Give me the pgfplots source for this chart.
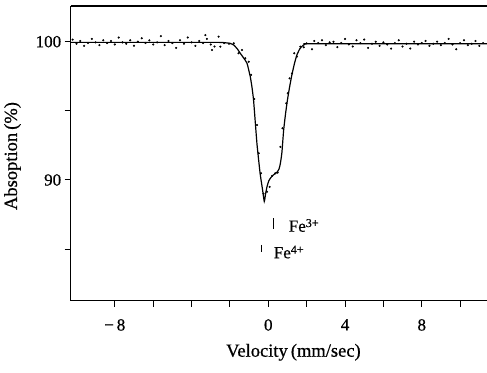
\documentclass[border=0pt]{standalone}
\usepackage{fontspec}
\setmainfont{Liberation Serif}[FakeBold=0.6]
\usepackage{pgfplots}
\pgfplotsset{compat=1.18}
\usetikzlibrary{calc}
\begin{document}
\begin{tikzpicture}
\begin{axis}[name=ax, scale only axis, width=416.3pt, height=294.7pt,
 xmin=-10.3, xmax=11.4, ymin=81.27, ymax=102.58,
 axis x line=box, axis y line=left, axis line style={-, line width=1.4pt},
 xtick={-8,-6,...,10}, xticklabels={−\,8,,,,0,,4,,8,},
 ytick={85,90,95,100}, yticklabels={,90,,100},
 tick align=outside, tick pos=left,
 major tick length=6pt, tick style={line width=1pt, black},
 ticklabel style={font=\fontsize{17}{20}\selectfont},
 xticklabel style={yshift=-9pt},
 /pgf/number format/assume math mode=true,
 xlabel={Velocity\,(mm/sec)}, ylabel={Absoption\,(\%)},
 label style={font=\fontsize{18.5}{21}\selectfont},
 xlabel style={at={(axis description cs:0.535,-0.19)}, anchor=base},
 ylabel style={at={(axis description cs:-0.1398,0.491)}, anchor=center},
]
% fitted curve
\addplot[black, line width=1.2pt, smooth, tension=0.3] coordinates {
(-10.3,99.95) (-4,99.95) (-2.6,99.95) (-2.3,99.93) (-2.0,99.88) (-1.8,99.76) (-1.6,99.45)
(-1.46,99.16) (-1.3,98.85) (-1.11,98.44) (-0.94,97.47) (-0.85,96.7) (-0.77,95.8)
(-0.68,94.2) (-0.59,92.6) (-0.50,91.4) (-0.42,90.4) (-0.30,89.3) (-0.21,88.45)
(-0.14,89.0) (-0.07,89.5) (0.03,89.95) (0.15,90.2) (0.28,90.38) (0.45,90.55)
(0.56,90.8) (0.63,91.2) (0.71,92.0) (0.80,93.6) (0.90,94.8) (1.0,95.8) (1.12,96.8)
(1.23,97.6) (1.36,98.4) (1.49,99.04) (1.65,99.5) (1.8,99.72) (1.93,99.83) (2.3,99.85) (11.4,99.85)
};
% measured points
\addplot[only marks, mark=*, mark size=0.85pt, black] coordinates {
(-10.2,100.15) (-10.0,99.85) (-9.8,100.05) (-9.6,99.7) (-9.4,99.9) (-9.2,100.2) (-9.0,99.95)
(-8.8,99.75) (-8.6,100.1) (-8.4,99.9) (-8.2,100.05) (-8.0,99.8) (-7.8,100.3) (-7.6,99.95)
(-7.4,99.85) (-7.2,100.1) (-7.0,99.7) (-6.8,100.0) (-6.6,100.25) (-6.4,99.9) (-6.2,100.1)
(-6.0,99.8) (-5.8,99.95) (-5.6,100.4) (-5.4,99.75) (-5.2,100.05) (-5.0,99.9) (-4.8,99.55)
(-4.6,100.1) (-4.4,99.85) (-4.2,100.3) (-4.0,99.95) (-3.8,99.7) (-3.6,100.05) (-3.4,99.9)
(-3.28,100.48) (-3.2,100.2) (-3.0,99.8) (-2.93,99.4) (-2.8,99.65) (-2.59,100.36) (-2.5,99.64)
(-2.3,99.9) (-2.05,99.85) (-1.8,99.88) (-1.55,99.16) (-1.37,99.4) (-1.2,98.8) (-1.02,98.55)
(-0.9,97.6) (-0.73,95.86) (-0.59,93.98) (-0.5,91.93) (-0.38,90.48) (-0.25,89.0) (-0.07,89.15)
(0.07,89.5) (0.2,90.3) (0.36,90.48) (0.49,90.53) (0.63,92.4) (0.74,93.74) (0.94,95.55)
(1.02,96.27) (1.11,97.35) (1.23,97.7) (1.35,99.16) (1.49,98.92) (1.67,99.64) (1.85,99.6) (2.0,99.88) (2.28,99.45)
(2.4,100.05) (2.6,99.9) (2.8,100.1) (3.0,99.75) (3.2,99.95) (3.4,100.0) (3.6,99.6)
(3.8,99.9) (4.0,100.2) (4.2,99.8) (4.4,99.65) (4.6,100.1) (4.8,99.9) (5.0,100.15)
(5.2,99.55) (5.4,99.85) (5.6,100.0) (5.8,99.7) (6.0,99.95) (6.2,99.8) (6.4,99.5)
(6.6,99.9) (6.8,100.1) (7.0,99.65) (7.2,99.85) (7.4,99.5) (7.6,100.0) (7.8,99.8)
(8.0,99.9) (8.2,100.05) (8.4,99.7) (8.6,99.85) (8.8,100.0) (9.0,99.75) (9.2,99.9)
(9.4,100.2) (9.6,99.8) (9.8,99.45) (10.0,99.9) (10.2,100.1) (10.4,99.75) (10.6,99.85)
(10.8,100.05) (11.0,99.7) (11.2,99.9)
};
% position markers
\addplot[black, line width=0.8pt] coordinates {(0.26,87.23) (0.26,86.45)};
\addplot[black, line width=0.8pt] coordinates {(-0.36,85.3) (-0.36,84.8)};
\node[anchor=base west, font=\fontsize{17}{20}\selectfont, inner sep=0pt] at (axis cs:1.06,86.26) {Fe\raisebox{0.6ex}{\fontsize{12}{12}\selectfont 3+}};
\node[anchor=base west, font=\fontsize{17}{20}\selectfont, inner sep=0pt] at (axis cs:0.28,84.34) {Fe\raisebox{0.6ex}{\fontsize{12}{12}\selectfont 4+}};
\end{axis}
\pgfresetboundingbox
\useasboundingbox ($(ax.south west)+(-70.7pt,-71.3pt)$) rectangle ($(ax.north east)+(0pt,6pt)$);
\end{tikzpicture}
\end{document}
